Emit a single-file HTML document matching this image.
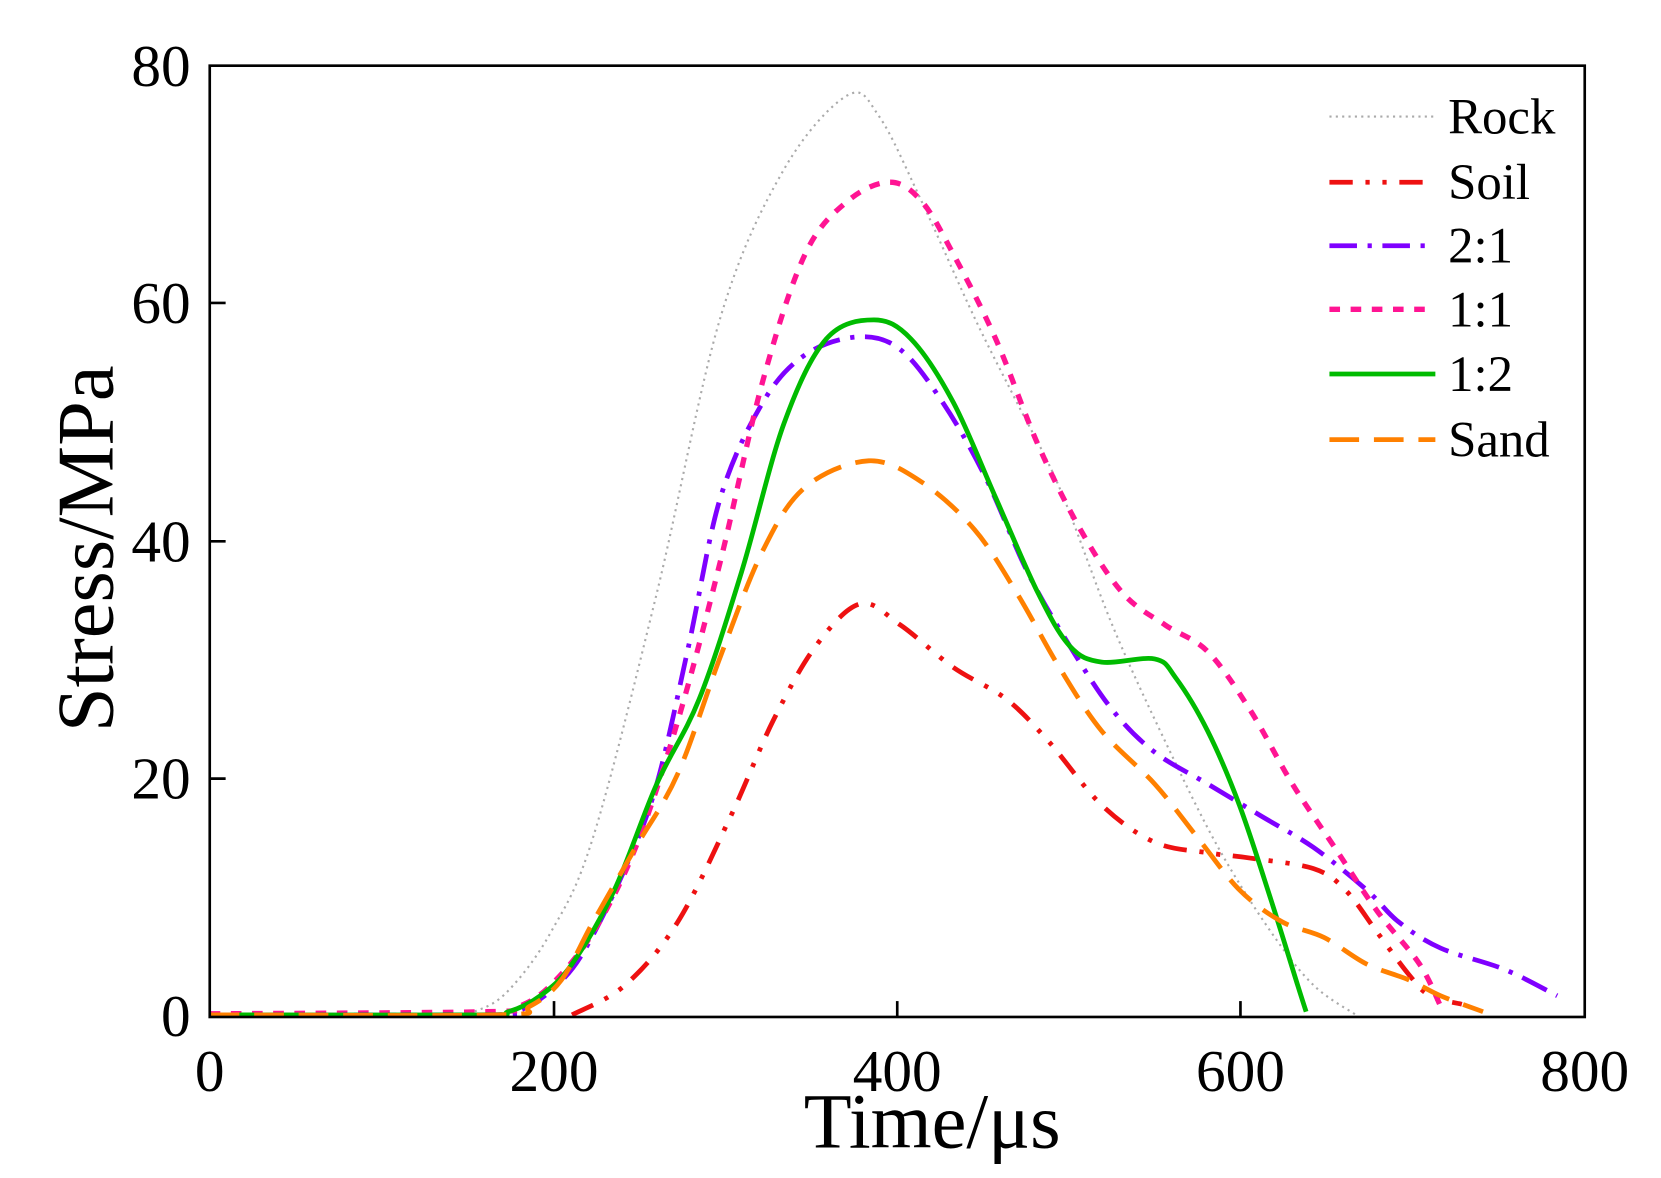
<!DOCTYPE html>
<html><head><meta charset="utf-8"><style>html,body{margin:0;padding:0;background:#fff}svg{display:block}</style></head>
<body>
<svg id="s" width="1661" height="1178" viewBox="0 0 1568 1112" preserveAspectRatio="none" xmlns="http://www.w3.org/2000/svg" font-family="Liberation Serif, serif">
<rect width="1568" height="1112" fill="#fff"/>
<g fill="none" stroke-linejoin="round" stroke-linecap="butt">
<path class="c" stroke="#aaa" stroke-width="2" stroke-dasharray="2,4" data-p="198,958 420,958 450,954 480,935 520,880 560,790 620,560 680,300 740,160 800,90 830,110 870,190 920,300 960,380 1000,460 1050,590 1100,700 1150,800 1200,880 1240,930 1280,958"/>
<path class="c" stroke="#ee1111" stroke-width="4.5" stroke-dasharray="22,12,4,12,4,12" data-p="540,958 590,930 640,870 690,770 730,680 770,610 812,570 850,590 900,630 950,660 990,700 1040,760 1090,795 1140,805 1180,810 1240,820 1270,840 1300,880 1330,920 1350,940 1380,948"/>
<path class="c" stroke="#7f00ff" stroke-width="4.5" stroke-dasharray="26,10,4,10" data-p="198,958 460,958 490,954 520,935 550,900 590,820 620,740 650,610 680,470 720,380 760,335 810,318 850,330 890,380 930,450 970,540 1010,610 1050,670 1090,710 1140,740 1190,770 1240,800 1290,840 1320,870 1360,895 1420,915 1470,940"/>
<path class="c" stroke="#ff1493" stroke-width="5" stroke-dasharray="10,10" data-p="198,957 460,955 490,950 520,930 560,880 600,800 640,680 680,530 720,360 760,240 800,190 840,172 870,190 900,240 940,320 980,420 1020,500 1060,560 1100,590 1140,615 1180,670 1220,740 1260,800 1300,860 1340,910 1360,950"/>
<path class="c" stroke="#00bb00" stroke-width="4.5" data-p="198,958 450,958 480,955 510,940 540,910 580,840 620,740 660,660 700,540 740,400 780,320 825,302 860,320 900,380 940,470 980,560 1010,610 1040,625 1090,622 1110,640 1140,690 1170,760 1200,850 1225,930 1233,955"/>
<path class="c" stroke="#ff8000" stroke-width="4.5" stroke-dasharray="28,14" data-p="198,958 470,958 500,950 530,925 560,870 600,800 640,730 680,620 720,520 760,460 820,435 870,455 920,500 960,560 1000,630 1040,690 1090,740 1130,790 1170,840 1210,870 1250,885 1290,910 1330,925 1360,940 1400,955"/>
</g>
<rect x="198" y="62" width="1298" height="898" fill="none" stroke="#000" stroke-width="2.5"/>
<g stroke="#000" stroke-width="2.5">
<line x1="523" y1="960" x2="523" y2="945"/><line x1="847" y1="960" x2="847" y2="945"/><line x1="1171" y1="960" x2="1171" y2="945"/>
<line x1="198" y1="735" x2="213" y2="735"/><line x1="198" y1="511" x2="213" y2="511"/><line x1="198" y1="286" x2="213" y2="286"/>
</g>
<g font-size="56" text-anchor="end">
<text x="180" y="978">0</text><text x="180" y="754">20</text><text x="180" y="530">40</text><text x="180" y="305">60</text><text x="180" y="81">80</text>
</g>
<g font-size="56" text-anchor="middle">
<text x="198" y="1030">0</text><text x="523" y="1030">200</text><text x="847" y="1030">400</text><text x="1171" y="1030">600</text><text x="1496" y="1030">800</text>
</g>
<text x="880" y="1083" font-size="74" text-anchor="middle">Time/μs</text>
<text transform="translate(106,518) rotate(-90)" font-size="76" text-anchor="middle">Stress/MPa</text>
<g stroke-width="4.5" fill="none">
<line x1="1255" y1="110" x2="1355" y2="110" stroke="#aaa" stroke-width="2" stroke-dasharray="2,4"/>
<line x1="1255" y1="172" x2="1355" y2="172" stroke="#ee1111" stroke-dasharray="22,12,4,12,4,12"/>
<line x1="1255" y1="232" x2="1355" y2="232" stroke="#7f00ff" stroke-dasharray="26,10,4,10"/>
<line x1="1255" y1="292" x2="1355" y2="292" stroke="#ff1493" stroke-width="5" stroke-dasharray="10,10"/>
<line x1="1255" y1="353" x2="1355" y2="353" stroke="#00bb00"/>
<line x1="1255" y1="415" x2="1355" y2="415" stroke="#ff8000" stroke-dasharray="28,14"/>
</g>
<g font-size="48">
<text x="1367" y="126">Rock</text><text x="1367" y="188">Soil</text><text x="1367" y="248">2:1</text><text x="1367" y="308">1:1</text><text x="1367" y="369">1:2</text><text x="1367" y="431">Sand</text>
</g>
</svg>
<script>
document.querySelectorAll('path.c').forEach(function(el){
 var p=el.getAttribute('data-p').trim().split(/\s+/).map(function(s){return s.split(',').map(Number);});
 var d='M'+p[0][0]+','+p[0][1];
 for(var i=0;i<p.length-1;i++){
  var p0=p[i-1]||p[i],p1=p[i],p2=p[i+1],p3=p[i+2]||p2;
  var c1x=p1[0]+(p2[0]-p0[0])/6,c1y=p1[1]+(p2[1]-p0[1])/6;
  var c2x=p2[0]-(p3[0]-p1[0])/6,c2y=p2[1]-(p3[1]-p1[1])/6;
  d+=' C'+c1x+','+c1y+' '+c2x+','+c2y+' '+p2[0]+','+p2[1];
 }
 el.setAttribute('d',d);
});
</script>
</body></html>
